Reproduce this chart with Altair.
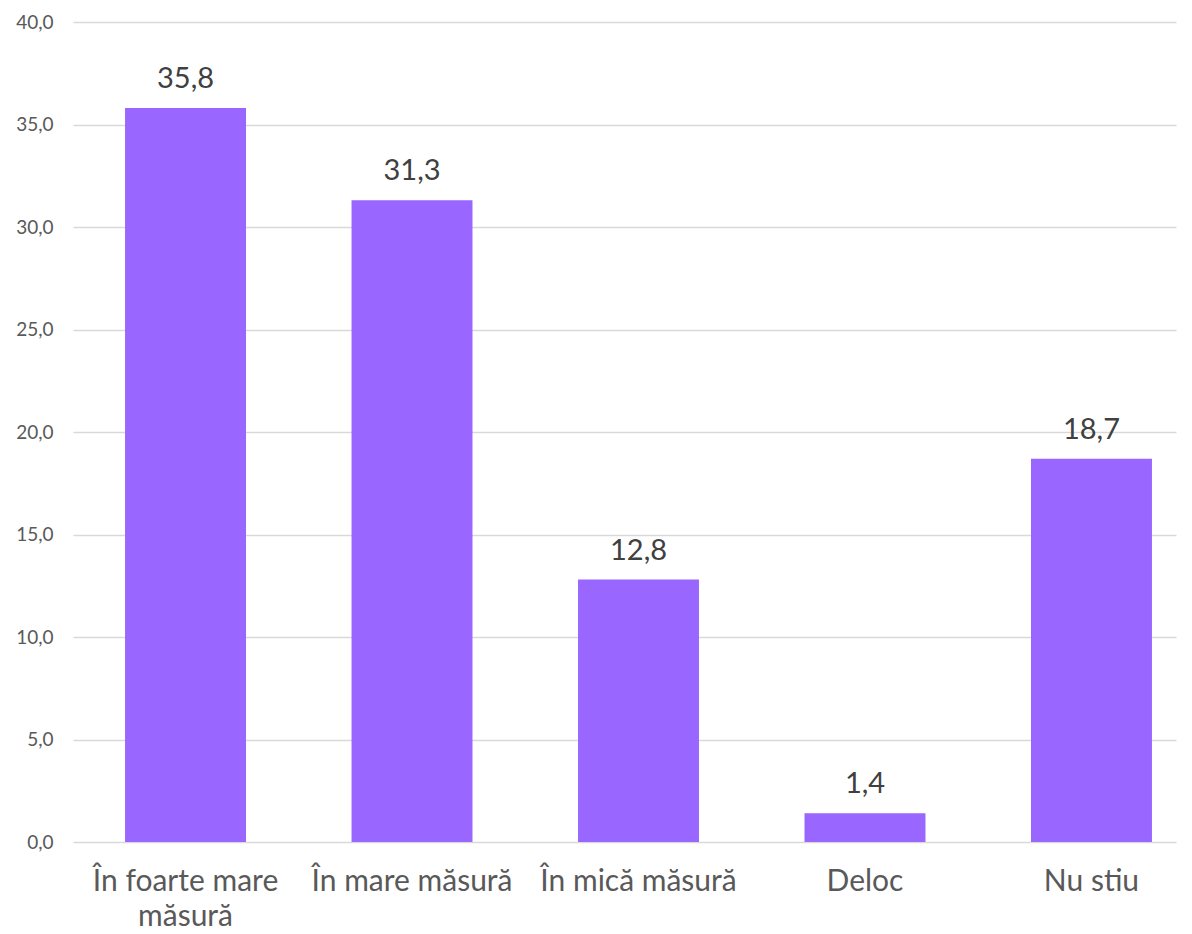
import altair as alt
import pandas as pd

categories = ["În foarte mare măsură", "În mare măsură", "În mică măsură", "Deloc", "Nu stiu"]
values = [35.8, 31.3, 12.8, 1.4, 18.7]

df = pd.DataFrame({"cat": categories, "val": values})
df["lbl"] = [f"{v:.1f}".replace(".", ",") for v in values]

FONT = "Lato"
TXT = "#595959"

xscale = alt.Scale(paddingInner=0.466, paddingOuter=0.168, align=0.684)
x = alt.X("cat:N", sort=categories, title=None, scale=xscale,
          axis=alt.Axis(labelAngle=0, labelFontSize=30, labelColor=TXT, labelFont=FONT,
                        ticks=False, domain=False, labelPadding=24, labelLimit=400,
                        labelExpr="datum.label == 'În foarte mare măsură' ? ['În foarte mare', 'măsură'] : datum.label",
                        labelLineHeight=35))
y = alt.Y("val:Q", title=None,
          scale=alt.Scale(domain=[0, 40], nice=False),
          axis=alt.Axis(values=[0, 5, 10, 15, 20, 25, 30, 35, 40], labelExpr="replace(format(datum.value, '.1f'), '.', ',')",
                        labelFontSize=19, labelColor=TXT, labelFont=FONT, ticks=False, domain=False,
                        gridColor="#D9D9D9", gridWidth=1.5, labelPadding=20))

bars = alt.Chart(df).mark_bar(color="#9966FF").encode(x=x, y=y)
text = alt.Chart(df).mark_text(baseline="alphabetic", dy=-20, fontSize=29, font=FONT, color="#404040").encode(
    x=alt.X("cat:N", sort=categories, scale=xscale), y="val:Q", text="lbl:N")

chart = (bars + text).properties(
    width=1103, height=820,
    autosize=alt.AutoSizeParams(type="none"),
    padding={"left": 65, "top": 14, "right": 8, "bottom": 96},
).configure_view(stroke=None)

chart.save("out.html", embed_options={"renderer": "svg", "actions": False})
